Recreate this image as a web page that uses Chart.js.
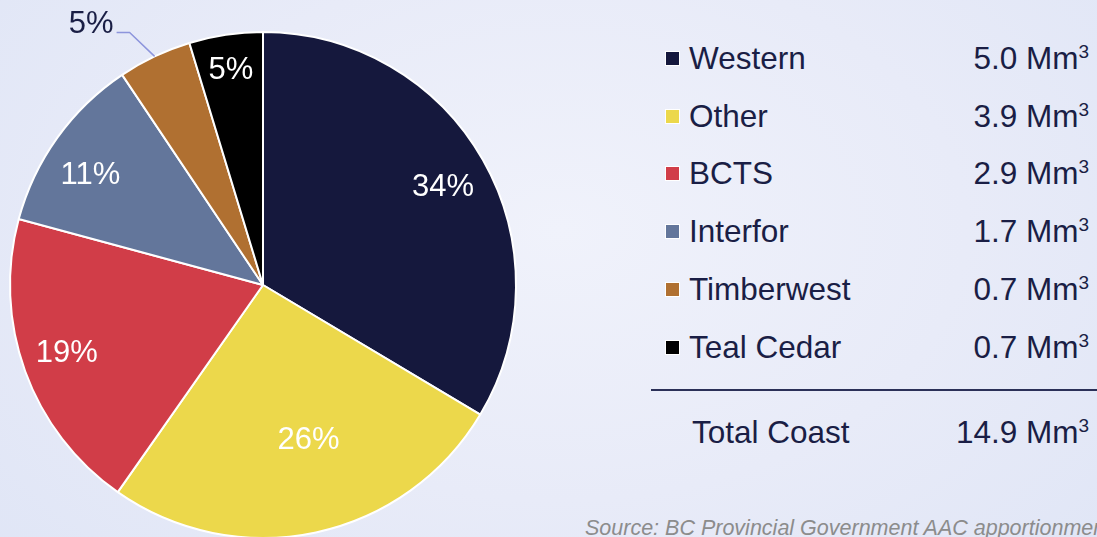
<!DOCTYPE html>
<html>
<head>
<meta charset="utf-8">
<script src="https://cdn.jsdelivr.net/npm/chart.js@4"></script>
<style>
    html, body {
        margin: 0;
        padding: 0;
        width: 1097px;
        height: 537px;
        overflow: hidden;
        font-family: Arial, "Liberation Sans", sans-serif;
    }
    body {
        background: radial-gradient(ellipse 900px 600px at 560px 230px, #f0f2fb 0%, #e8ebf8 45%, #dce3f5 100%);
        position: relative;
    }
    #pieBox {
        position: absolute;
        left: 0;
        top: 0;
        width: 540px;
        height: 580px;
    }
    .row {
        position: absolute;
        left: 665px;
        width: 432px;
        height: 40px;
        color: #1a1e45;
        font-size: 31.5px;
        line-height: 40px;
    }
    .swatch {
        position: absolute;
        left: 0;
        top: 13px;
        width: 13px;
        height: 13px;
        border: 1px solid #ffffff;
    }
    .name {
        position: absolute;
        left: 24px;
        top: 0;
    }
    .value {
        position: absolute;
        right: 8px;
        top: 0;
        white-space: nowrap;
    }
    .value sup {
        font-size: 19px;
        vertical-align: 0;
        position: relative;
        top: -11px;
    }
    #rule {
        position: absolute;
        left: 651px;
        top: 389px;
        width: 446px;
        height: 2px;
        background: #2b3058;
    }
    #source {
        position: absolute;
        left: 585px;
        top: 518px;
        font-size: 21.5px;
        line-height: 21.5px;
        font-style: italic;
        color: #8c8c8c;
        white-space: nowrap;
    }
</style>
</head>
<body>
<div id="pieBox"><canvas id="pieChart"></canvas></div>
<div id="legend"></div>
<div id="rule"></div>
<div id="source"></div>

<script>
// Data
const companies = ['Western', 'Other', 'BCTS', 'Interfor', 'Timberwest', 'Teal Cedar'];
const volumes = [5.0, 3.9, 2.9, 1.7, 0.7, 0.7];          // Mm3
const percentLabels = ['34%', '26%', '19%', '11%', '5%', '5%'];
const totalLabel = 'Total Coast';
const totalVolume = 14.9;
const sourceText = 'Source: BC Provincial Government AAC apportionment';

const colors = ['#15183d', '#ecd84b', '#d13d48', '#63769b', '#b07031', '#000000'];

// label placement inside slices: [fraction of radius, angle shift in degrees]
// null = outside with a leader line
const labelPlace = [[0.81, 1], [0.635, -4.4], [0.82, 1], [0.81, -3], null, [0.86, 0]];

// Legend rows
const legend = document.getElementById('legend');
const rowTop = 38, rowStep = 57.7;
companies.forEach(function(name, i) {
    const row = document.createElement('div');
    row.className = 'row';
    row.style.top = (rowTop + i * rowStep) + 'px';
    row.innerHTML = '<div class="swatch" style="background:' + colors[i] + '"></div>' +
        '<div class="name"></div>' +
        '<div class="value">' + volumes[i].toFixed(1) + ' Mm<sup>3</sup></div>';
    row.querySelector('.name').textContent = name;
    legend.appendChild(row);
});
const totalRow = document.createElement('div');
totalRow.className = 'row';
totalRow.style.top = '412px';
totalRow.innerHTML = '<div class="name" style="left:27px"></div>' +
    '<div class="value">' + totalVolume.toFixed(1) + ' Mm<sup>3</sup></div>';
totalRow.querySelector('.name').textContent = totalLabel;
legend.appendChild(totalRow);
document.getElementById('source').textContent = sourceText;

// Slice labels
const sliceLabels = {
    id: 'sliceLabels',
    afterDatasetsDraw(chart) {
        const ctx = chart.ctx;
        const arcs = chart.getDatasetMeta(0).data;
        ctx.save();
        ctx.font = '31px Arial, "Liberation Sans", sans-serif';
        ctx.textBaseline = 'middle';
        arcs.forEach(function(arc, i) {
            const mid = (arc.startAngle + arc.endAngle) / 2;
            const r = arc.outerRadius;
            const place = labelPlace[i];
            if (place !== null) {
                const a = mid + place[1] * Math.PI / 180;
                ctx.fillStyle = '#ffffff';
                ctx.textAlign = 'center';
                ctx.fillText(percentLabels[i], arc.x + Math.cos(a) * r * place[0],
                    arc.y + Math.sin(a) * r * place[0] + 1);
            } else {
                // leader line out to the upper left
                const ex = arc.x + Math.cos(mid) * r;
                const ey = arc.y + Math.sin(mid) * r;
                const kx = ex - 25, ky = ey - 24;
                ctx.strokeStyle = '#8d95dc';
                ctx.lineWidth = 1.5;
                ctx.beginPath();
                ctx.moveTo(ex, ey);
                ctx.lineTo(kx, ky);
                ctx.lineTo(kx - 13, ky);
                ctx.stroke();
                ctx.fillStyle = '#1a1e45';
                ctx.textAlign = 'right';
                ctx.fillText(percentLabels[i], kx - 16, ky - 8);
            }
        });
        ctx.restore();
    }
};

new Chart(document.getElementById('pieChart'), {
    type: 'pie',
    data: {
        labels: companies,
        datasets: [{
            data: volumes,
            backgroundColor: colors,
            borderColor: '#ffffff',
            borderWidth: 2
        }]
    },
    options: {
        responsive: true,
        maintainAspectRatio: false,
        animation: false,
        radius: 253,
        layout: {
            padding: { left: 10, right: 24, top: 32, bottom: 42 }
        },
        plugins: {
            legend: { display: false },
            tooltip: { enabled: false }
        }
    },
    plugins: [sliceLabels]
});
</script>
</body>
</html>
